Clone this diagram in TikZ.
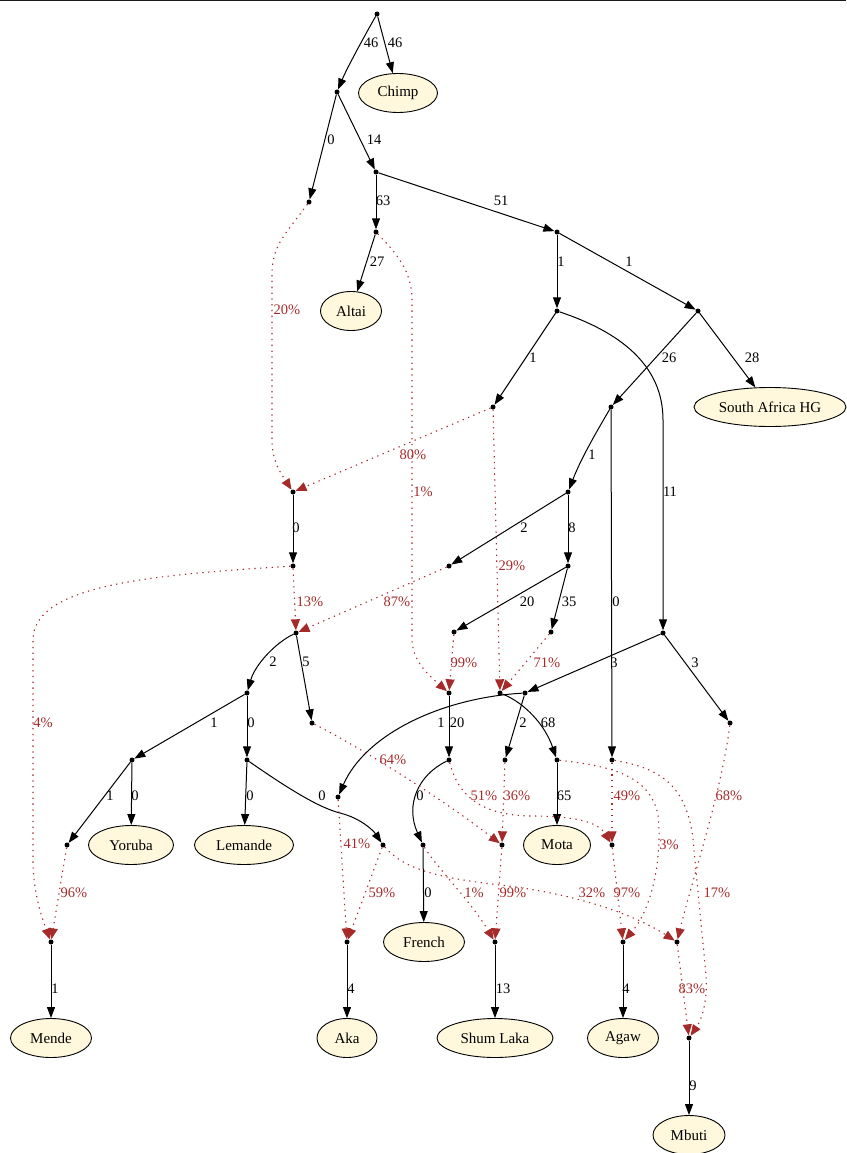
\documentclass[tikz,border=0pt]{standalone}
\usepackage{fontspec}
\setmainfont{Liberation Serif}
\usetikzlibrary{shapes.geometric,arrows.meta}
\definecolor{cornsilk}{HTML}{FFF8DC}
\definecolor{admred}{HTML}{A52A2A}
\begin{document}
\begin{tikzpicture}[x=1pt,y=-1pt,
 pt/.style={circle,fill=black,inner sep=0pt,minimum size=5pt},
 pop/.style={ellipse,draw,fill=cornsilk,line width=0.9pt,inner sep=0pt,minimum height=39pt,font=\fontsize{15}{15}\selectfont},
 tre/.style={line width=1pt,-{Triangle[length=11pt,width=8pt]}},
 adm/.style={draw=admred,line width=1.1pt,dash pattern=on 1.3pt off 4.5pt,-{Triangle[length=11pt,width=9pt,fill=admred]}},
 bl/.style={font=\fontsize{14.5}{14.5}\selectfont,inner sep=0pt},
 rl/.style={bl,text=admred},
]
\useasboundingbox (0,0) rectangle (846,1153);
\draw[line width=1.5pt,black!90] (0,0.75) -- (846,0.75);
% nodes
\node[pt] (R) at (377,14) {};
\node[pt] (n1) at (337,92) {};
\node[pop,minimum width=79pt] (Chimp) at (398,93) {Chimp};
\node[pt] (n2) at (309,202) {};
\node[pt] (n3) at (376,172) {};
\node[pt] (n4) at (376,232) {};
\node[pt] (n5) at (557,232) {};
\node[pop,minimum width=61pt] (Altai) at (351,311) {Altai};
\node[pt] (n6) at (557,311) {};
\node[pt] (n7) at (698,311) {};
\node[pt] (n8) at (493,407) {};
\node[pt] (n10) at (611,407) {};
\node[pop,minimum width=152pt] (SAHG) at (770,407) {South Africa HG};
\node[pt] (n19) at (293,492) {};
\node[pt] (n11) at (568,492) {};
\node[pt] (n21) at (293,566) {};
\node[pt] (n13) at (449,566) {};
\node[pt] (n14) at (568,566) {};
\node[pt] (n22) at (296,633) {};
\node[pt] (n15) at (454,632) {};
\node[pt] (n16) at (551,632) {};
\node[pt] (n9) at (663,633) {};
\node[pt] (n25) at (247,693) {};
\node[pt] (n24) at (449,693) {};
\node[pt] (n20) at (500,693) {};
\node[pt] (n17) at (525,693) {};
\node[pt] (n26) at (312,723) {};
\node[pt] (n18) at (730,723) {};
\node[pt] (n27) at (132,760) {};
\node[pt] (n28) at (247,760) {};
\node[pt] (n34) at (449,760) {};
\node[pt] (n32) at (505,760) {};
\node[pt] (n33) at (557,760) {};
\node[pt] (n12) at (612,760) {};
\node[pt] (n31) at (338,797) {};
\node[pt] (n29) at (67,845) {};
\node[pop,minimum width=85pt] (Yoruba) at (131,845) {Yoruba};
\node[pop,minimum width=99pt] (Lemande) at (244,845) {Lemande};
\node[pt] (n30) at (383,845) {};
\node[pt] (n35) at (423,845) {};
\node[pt] (n36) at (502,845) {};
\node[pop,minimum width=67pt] (Mota) at (557,845) {Mota};
\node[pt] (n37) at (612,845) {};
\node[pt] (n23) at (51,942) {};
\node[pt] (n42) at (347,942) {};
\node[pop,minimum width=81pt] (French) at (424,942) {French};
\node[pt] (n38) at (495,942) {};
\node[pt] (n39) at (623,942) {};
\node[pt] (n41) at (677,942) {};
\node[pop,minimum width=81pt] (Mende) at (51,1038) {Mende};
\node[pop,minimum width=60pt] (Aka) at (347,1038) {Aka};
\node[pop,minimum width=116pt] (Shum) at (495,1038) {Shum Laka};
\node[pop,minimum width=71pt] (Agaw) at (623,1038) {Agaw};
\node[pt] (n40) at (689,1038) {};
\node[pop,minimum width=72pt] (Mbuti) at (689,1135) {Mbuti};
% tree edges
\draw[tre] (R) .. controls (365,35) and (347,68) .. (n1);
\draw[tre] (R) -- (Chimp);
\draw[tre] (n1) -- (n2);
\draw[tre] (n1) -- (n3);
\draw[tre] (n3) -- (n4);
\draw[tre] (n3) -- (n5);
\draw[tre] (n4) -- (Altai);
\draw[tre] (n5) -- (n6);
\draw[tre] (n5) -- (n7);
\draw[tre] (n6) -- (n8);
\draw[tre] (n6) .. controls (620,332) and (663,365) .. (663,420) -- (n9);
\draw[tre] (n7) -- (n10);
\draw[tre] (n7) -- (SAHG);
\draw[tre] (n10) .. controls (600,426) and (582,456) .. (n11);
\draw[tre] (n10) -- (n12);
\draw[tre] (n11) -- (n13);
\draw[tre] (n11) -- (n14);
\draw[tre] (n14) -- (n15);
\draw[tre] (n14) -- (n16);
\draw[tre] (n9) -- (n17);
\draw[tre] (n9) -- (n18);
\draw[tre] (n19) -- (n21);
\draw[tre] (n22) .. controls (275,643) and (255,665) .. (n25);
\draw[tre] (n22) -- (n26);
\draw[tre] (n25) -- (n27);
\draw[tre] (n25) -- (n28);
\draw[tre] (n27) -- (n29);
\draw[tre] (n27) -- (Yoruba);
\draw[tre] (n28) -- (Lemande);
\draw[tre] (n28) .. controls (290,790) and (320,808) .. (340,813) .. controls (360,818) and (373,830) .. (n30);
\draw[tre] (n17) .. controls (440,698) and (365,735) .. (n31);
\draw[tre] (n17) -- (n32);
\draw[tre] (n20) .. controls (525,703) and (545,725) .. (n33);
\draw[tre] (n24) -- (n34);
\draw[tre] (n34) .. controls (418,775) and (405,805) .. (n35);
\draw[tre] (n33) -- (Mota);
\draw[tre] (n35) -- (French);
\draw[tre] (n23) -- (Mende);
\draw[tre] (n42) -- (Aka);
\draw[tre] (n38) -- (Shum);
\draw[tre] (n39) -- (Agaw);
\draw[tre] (n40) -- (Mbuti);
% admixture edges
\draw[adm] (n2) .. controls (285,235) and (272,245) .. (272,275) -- (272,440) .. controls (272,462) and (282,475) .. (n19);
\draw[adm] (n8) -- (n19);
\draw[adm] (n4) .. controls (395,252) and (412,270) .. (412,300) -- (412,640) .. controls (413,660) and (425,672) .. (n24);
\draw[adm] (n8) -- (n20);
\draw[adm] (n21) -- (n22);
\draw[adm] (n13) -- (n22);
\draw[adm] (n21) .. controls (150,575) and (33,585) .. (33,640) -- (33,865) .. controls (34,895) and (42,918) .. (n23);
\draw[adm] (n15) -- (n24);
\draw[adm] (n16) -- (n20);
\draw[adm] (n26) .. controls (350,742) and (430,790) .. (n36);
\draw[adm] (n34) .. controls (458,795) and (480,815) .. (530,816) .. controls (575,816) and (598,822) .. (n37);
\draw[adm] (n32) -- (n36);
\draw[adm] (n12) -- (n37);
\draw[adm] (n33) .. controls (610,766) and (650,775) .. (658,815) .. controls (662,850) and (655,905) .. (n39);
\draw[adm] (n12) .. controls (660,768) and (690,785) .. (694,850) -- (706,975) .. controls (708,1005) and (700,1022) .. (n40);
\draw[adm] (n18) .. controls (722,790) and (692,880) .. (n41);
\draw[adm] (n30) .. controls (405,870) and (440,878) .. (500,885) .. controls (570,893) and (630,912) .. (n41);
\draw[adm] (n35) .. controls (437,868) and (470,900) .. (n38);
\draw[adm] (n36) -- (n38);
\draw[adm] (n37) -- (n39);
\draw[adm] (n31) -- (n42);
\draw[adm] (n30) -- (n42);
\draw[adm] (n29) -- (n23);
\draw[adm] (n41) -- (n40);
% tree edge labels
\node[bl] (b1) at (371,43) {46};
\node[bl] (b2) at (395,43) {46};
\node[bl] (b3) at (331,140) {0};
\node[bl] (b4) at (374,140) {14};
\node[bl] (b5) at (383,201) {63};
\node[bl] (b6) at (501,201) {51};
\node[bl] (b7) at (377,262) {27};
\node[bl] (b8) at (561,262) {1};
\node[bl] (b9) at (629,262) {1};
\node[bl] (b10) at (533,358) {1};
\node[bl] (b11) at (669,358) {26};
\node[bl] (b12) at (752,358) {28};
\node[bl] (b13) at (592,455) {1};
\node[bl] (b14) at (670,492) {11};
\node[bl] (b15) at (524,528) {2};
\node[bl] (b16) at (572,528) {8};
\node[bl] (b17) at (296,528) {0};
\node[bl] (b18) at (527,602) {20};
\node[bl] (b19) at (569,602) {35};
\node[bl] (b20) at (616,602) {0};
\node[bl] (b21) at (273,662) {2};
\node[bl] (b22) at (306,662) {5};
\node[bl] (b23) at (614,663) {3};
\node[bl] (b24) at (695,663) {3};
\node[bl] (b25) at (214,723) {1};
\node[bl] (b26) at (251,723) {0};
\node[bl] (b27) at (441,723) {1};
\node[bl] (b28) at (457,723) {20};
\node[bl] (b29) at (523,723) {2};
\node[bl] (b30) at (548,723) {68};
\node[bl] (b31) at (110,796) {1};
\node[bl] (b32) at (135,796) {0};
\node[bl] (b33) at (250,796) {0};
\node[bl] (b34) at (322,796) {0};
\node[bl] (b35) at (420,796) {0};
\node[bl] (b36) at (564,796) {65};
\node[bl] (b37) at (428,893) {0};
\node[bl] (b38) at (55,989) {1};
\node[bl] (b39) at (351,989) {4};
\node[bl] (b40) at (503,989) {13};
\node[bl] (b41) at (626,989) {4};
\node[bl] (b42) at (693,1086) {9};
% admixture labels
\node[rl] (r1) at (287,310) {20\%};
\node[rl] (r2) at (413,455) {80\%};
\node[rl] (r3) at (423,492) {1\%};
\node[rl] (r4) at (512,566) {29\%};
\node[rl] (r5) at (310,602) {13\%};
\node[rl] (r6) at (397,602) {87\%};
\node[rl] (r7) at (464,663) {99\%};
\node[rl] (r8) at (547,663) {71\%};
\node[rl] (r9) at (43,723) {4\%};
\node[rl] (r10) at (393,760) {64\%};
\node[rl] (r11) at (484,796) {51\%};
\node[rl] (r12) at (517,796) {36\%};
\node[rl] (r13) at (627,796) {49\%};
\node[rl] (r14) at (729,796) {68\%};
\node[rl] (r15) at (357,844) {41\%};
\node[rl] (r16) at (669,845) {3\%};
\node[rl] (r17) at (74,893) {96\%};
\node[rl] (r18) at (382,893) {59\%};
\node[rl] (r19) at (474,893) {1\%};
\node[rl] (r20) at (513,893) {99\%};
\node[rl] (r21) at (592,893) {32\%};
\node[rl] (r22) at (627,893) {97\%};
\node[rl] (r23) at (717,893) {17\%};
\node[rl] (r24) at (692,989) {83\%};
\end{tikzpicture}
\end{document}
